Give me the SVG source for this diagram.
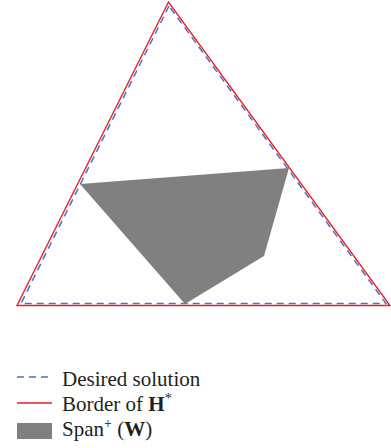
<svg xmlns="http://www.w3.org/2000/svg" width="391" height="448" viewBox="0 0 391 448">
<style>
.red{fill:none;stroke:#ed1c24;stroke-width:1.4}
.blue{fill:none;stroke:#4f6fc2;stroke-width:1.5;stroke-dasharray:7 5}
.span{fill:#808080}
text{font-family:"Liberation Serif",serif;font-size:21px;fill:#231f20}
</style>
<g id="connectors">
<polygon id="border" class="red" points="168.5,2 17,305.5 390,305.5"/>
<polygon id="desired" class="blue" points="169,6 21,303.5 386,303.5"/>
</g>
<g id="span-w">
<polygon class="span" points="80,184 289,168 264,256 185,304"/>
</g>
<g id="legend">
<line class="blue" x1="17" y1="377" x2="52" y2="377"/>
<text x="62" y="386">Desired solution</text>
<line class="red" x1="17" y1="403" x2="52" y2="403"/>
<text x="62" y="411">Border of <tspan font-weight="bold">H</tspan><tspan font-size="14" dy="-8">*</tspan></text>
<rect class="span" x="17" y="423" width="35" height="16"/>
<text x="62" y="436">Span<tspan font-size="14" dy="-8">+</tspan><tspan dy="8"> (</tspan><tspan font-weight="bold">W</tspan>)</text>
</g>
</svg>
